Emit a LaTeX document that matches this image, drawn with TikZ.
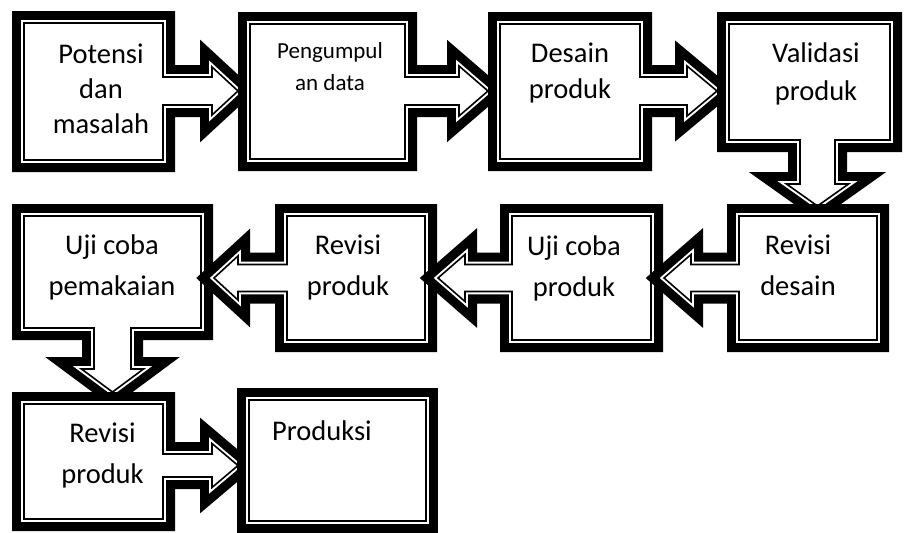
\documentclass[tikz,border=0pt]{standalone}
\usepackage{fontspec}
\setmainfont{Carlito}
\usepackage{tikz}

\begin{document}
\begin{tikzpicture}
    [   x = 1pt
    ,   y = -1pt
    ,   frame/.style=
        {   preaction = {draw=black, line width=24pt}
        ,   fill = white
        ,   postaction = {draw=white, line width=5.6pt}
        ,   postaction = {draw=black, line width=1.6pt}
        }
    ,   steptext/.style=
        {   anchor = base
        ,   align = center
        ,   inner sep = 0pt
        ,   font = \fontsize{28.5}{36}\selectfont
        }
    ,   tallrows/.style = {font = \fontsize{28.5}{41.5}\selectfont}
    ]
    \useasboundingbox (0,0) rectangle (908,533);
    % top row, arrows to the right
    \path[frame] (24,23) -- (163,23) -- (163,77) -- (212,77) -- (212,67) -- (238,91)
        -- (212,115) -- (212,105) -- (163,105) -- (163,160) -- (24,160) -- cycle;
    \path[frame] (250,24) -- (405,24) -- (405,77) -- (459,77) -- (459,66) -- (488,91)
        -- (459,116) -- (459,105) -- (405,105) -- (405,159) -- (250,159) -- cycle;
    \path[frame] (500,24) -- (640,24) -- (640,77) -- (687,77) -- (687,66) -- (717,91)
        -- (687,116) -- (687,105) -- (640,105) -- (640,159) -- (500,159) -- cycle;
    \path[frame] (729,24) -- (890,24) -- (890,140) -- (835,140) -- (835,184) -- (848.5,184)
        -- (817.5,206) -- (786.5,184) -- (800,184) -- (800,140) -- (729,140) -- cycle;
    % middle row, drawn from the left so each arrow lies over its target
    \path[frame] (24,216) -- (201,216) -- (201,328) -- (131,328) -- (131,369) -- (143.5,369)
        -- (112.5,392) -- (81.5,369) -- (94,369) -- (94,328) -- (24,328) -- cycle;
    \path[frame] (287,216) -- (425,216) -- (425,340) -- (287,340) -- (287,291.5) -- (238,291.5)
        -- (238,300) -- (214,278) -- (238,256) -- (238,264.5) -- (287,264.5) -- cycle;
    \path[frame] (512,216) -- (651,216) -- (651,340) -- (512,340) -- (512,291.5) -- (465,291.5)
        -- (465,301.5) -- (438,278) -- (465,254.5) -- (465,264.5) -- (512,264.5) -- cycle;
    \path[frame] (739,216) -- (877,216) -- (877,340) -- (739,340) -- (739,291.5) -- (691,291.5)
        -- (691,301.5) -- (664,278) -- (691,254.5) -- (691,264.5) -- (739,264.5) -- cycle;
    % bottom row
    \path[frame] (24,404) -- (163,404) -- (163,454) -- (212,454) -- (212,443.5) -- (238,465.5)
        -- (212,487.5) -- (212,477) -- (163,477) -- (163,519) -- (24,519) -- cycle;
    \path[frame] (249,400) rectangle (426,521);
    % texts (base = last line)
    \node[steptext, font=\fontsize{28.5}{35}\selectfont] (potensi) at (101,133) {Potensi\\dan\\masalah};
    \node[steptext, font=\fontsize{23}{32}\selectfont] (pengumpulan) at (330,90) {Pengumpul\\an data};
    \node[steptext] (desain) at (570,98) {Desain\\produk};
    \node[steptext, font=\fontsize{28.5}{38}\selectfont] (validasi) at (816,100) {Validasi\\produk};
    \node[steptext, tallrows] (revdesain) at (798,295.5) {Revisi\\desain};
    \node[steptext, tallrows] (ujiproduk) at (574,296.5) {Uji coba\\produk};
    \node[steptext, tallrows] (revproduk) at (348,295.5) {Revisi\\produk};
    \node[steptext, tallrows] (ujipakai) at (112,295.5) {Uji coba\\pemakaian};
    \node[steptext, tallrows] (revproduk2) at (102.5,483.5) {Revisi\\produk};
    \node[steptext, anchor=base west] (produksi) at (272,440) {Produksi};
\end{tikzpicture}
\end{document}
